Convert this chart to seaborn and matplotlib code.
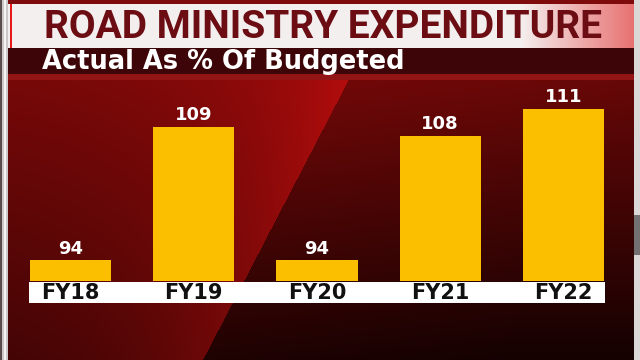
import numpy as np
import matplotlib
matplotlib.use("Agg")
import matplotlib.pyplot as plt
from matplotlib.patches import Rectangle
import seaborn as sns

# chart data
years = ["FY18", "FY19", "FY20", "FY21", "FY22"]
actual_pct = [94, 109, 94, 108, 111]
title = "ROAD MINISTRY EXPENDITURE"
subtitle = "Actual As % Of Budgeted"

W, H = 640, 360


def make_background():
    yy, xx = np.mgrid[0:H, 0:W].astype(float)
    # diagonal edge of the bright streak
    xb = 270 - 0.52 * (yy - 230)
    left = xx < xb
    v = np.clip((yy - 82) / 278.0, 0, 1)
    near = np.exp(-np.clip(xb - xx, 0, None) / 120.0)
    r_left = (0.45 - 0.22 * v) + (0.25 - 0.06 * v) * near
    r_right = 0.44 - 0.32 * v - 0.04 * np.clip((xx - xb) / 300.0, 0, 1)
    r = np.where(left, r_left, r_right)
    img = np.zeros((H, W, 3))
    img[..., 0] = r
    img[..., 1] = r * 0.07
    img[..., 2] = r * 0.07
    # top strip
    img[0:4, :, :] = [0.50, 0.04, 0.05]
    # title banner, white fading to pink on the right
    t = np.clip((xx[4:48, 8:634] - 520) / 114.0, 0, 1)
    img[4:48, 8:634, 0] = 0.96 - 0.05 * t
    img[4:48, 8:634, 1] = 0.94 - 0.50 * t
    img[4:48, 8:634, 2] = 0.94 - 0.50 * t
    img[4:48, 10:12, :] = [0.90, 0.1, 0.1]
    # subtitle bar
    img[48:74, 8:634, :] = [0.24, 0.02, 0.03]
    # red strip under subtitle
    img[74:80, 8:634, :] = [0.58, 0.08, 0.08]
    # side frames
    img[:, 0:8, :] = [0.80, 0.78, 0.78]
    img[:, 0:2, :] = [0.35, 0.30, 0.30]
    img[:, 4:6, :] = [0.96, 0.96, 0.96]
    img[:, 634:, :] = [0.86, 0.85, 0.85]
    img[215:255, 634:, :] = [0.45, 0.44, 0.44]
    return np.clip(img, 0, 1)


sns.set_theme(style="white")
fig = plt.figure(figsize=(6.4, 3.6), dpi=100)

bg = fig.add_axes([0, 0, 1, 1])
bg.imshow(make_background(), aspect="auto", extent=(0, W, H, 0))
bg.set_axis_off()

fig.text(44 / W, 1 - 28 / H, title, fontsize=28, fontweight="bold",
         color="#6b0d12", va="center", ha="left", family="Roboto")
fig.text(42 / W, 1 - 62 / H, subtitle, fontsize=18.5, fontweight="bold",
         color="white", va="center", ha="left", family="DejaVu Sans")

ax = fig.add_axes([30 / W, 1 - 281 / H, 574 / W, 199 / H])
ax.patch.set_alpha(0)
sns.barplot(x=years, y=actual_pct, color="#fcbf00", width=0.66,
            saturation=1, edgecolor="none", ax=ax)
ax.set_xlim(-0.33, 4.33)
ax.set_ylim(91.7, 114)
ax.bar_label(ax.containers[0], padding=2, color="white", fontsize=13,
             fontweight="bold")
sns.despine(ax=ax, left=True, bottom=True)
ax.set_yticks([])
ax.set_xlabel("")
ax.set_ylabel("")
ax.tick_params(axis="x", length=0, pad=8.3, labelsize=15, labelcolor="#111111")
for lbl in ax.get_xticklabels():
    lbl.set_va("center")
    lbl.set_fontweight("bold")
ax.add_patch(Rectangle((-0.002, -0.1106), 1.004, 0.105, transform=ax.transAxes,
                       clip_on=False, facecolor="white", edgecolor="none",
                       zorder=0.5))

fig.savefig("out.png", dpi=100)
